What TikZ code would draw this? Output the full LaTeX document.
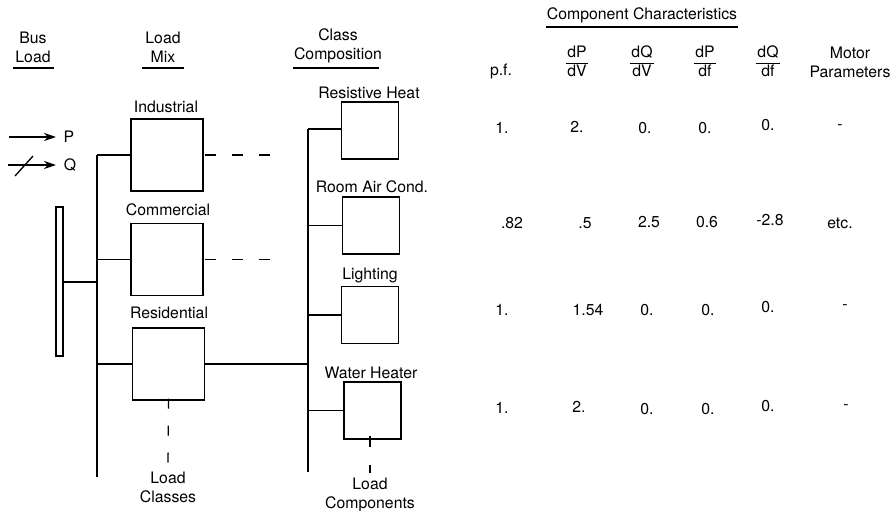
\documentclass[tikz,border=0pt]{standalone}
\usepackage{fontspec}
\setmainfont{TeX Gyre Heros}
\usetikzlibrary{arrows.meta}
\begin{document}
\begin{tikzpicture}[x=1pt,y=-1pt,
  every node/.style={font=\fontsize{15.8}{19}\selectfont, inner sep=0pt, align=center},
  lbox/.style={draw, line width=1.3pt, minimum width=72pt, minimum height=72pt},
  cbox/.style={draw, line width=1.3pt, minimum width=57pt, minimum height=57pt},
  wire/.style={line width=1.3pt},
  dashwire/.style={line width=1.3pt, dash pattern=on 11pt off 16pt},
  uline/.style={line width=1.3pt}
]
\useasboundingbox (0,0) rectangle (892,511);

% --- headers
\node (hbus) at (33,47) {Bus\\Load};
\coordinate (hbusL) at (13,68); \coordinate (hbusR) at (54,68);
\draw[uline] (hbusL) -- (hbusR);
\node (hmix) at (163,47) {Load\\Mix};
\coordinate (hmixL) at (142,68); \coordinate (hmixR) at (184,68);
\draw[uline] (hmixL) -- (hmixR);
\node (hclass) at (338,46) {Class\\Composition};
\coordinate (hclassL) at (293,68); \coordinate (hclassR) at (379,68);
\draw[uline] (hclassL) -- (hclassR);
\node (hcomp) at (642,15) {Component Characteristics};
\coordinate (hcompL) at (546,27); \coordinate (hcompR) at (738,27);
\draw[uline] (hcompL) -- (hcompR);

% --- column heads
\node (hpf) at (501,71) {p.f.};
\node (h1) at (577,63) {\setlength{\tabcolsep}{1pt}\renewcommand{\arraystretch}{1.0}\begin{tabular}{c}dP\\\hline dV\end{tabular}};
\node (h2) at (642,63) {\setlength{\tabcolsep}{1pt}\renewcommand{\arraystretch}{1.0}\begin{tabular}{c}dQ\\\hline dV\end{tabular}};
\node (h3) at (705,63) {\setlength{\tabcolsep}{1pt}\renewcommand{\arraystretch}{1.0}\begin{tabular}{c}dP\\\hline df\end{tabular}};
\node (h4) at (768,63) {\setlength{\tabcolsep}{1pt}\renewcommand{\arraystretch}{1.0}\begin{tabular}{c}dQ\\\hline df\end{tabular}};
\node (h5) at (850,62) {Motor\\Parameters};

% --- table rows
\node (r1a) at (502,128) {1.};
\node (r1b) at (577,127) {2.};
\node (r1c) at (645,128) {0.};
\node (r1d) at (705,128) {0.};
\node (r1e) at (768,125) {0.};
\node (r1f) at (840,127) {-};

\node (r2a) at (512,223) {.82};
\node (r2b) at (585,223) {.5};
\node (r2c) at (649,222) {2.5};
\node (r2d) at (707,222) {0.6};
\node (r2e) at (770,220) {-2.8};
\node (r2f) at (840,223) {etc.};

\node (r3a) at (502,310) {1.};
\node (r3b) at (588,310) {1.54};
\node (r3c) at (647,310) {0.};
\node (r3d) at (708,310) {0.};
\node (r3e) at (768,307) {0.};
\node (r3f) at (845,307) {-};

\node (r4a) at (502,408) {1.};
\node (r4b) at (579,407) {2.};
\node (r4c) at (647,409) {0.};
\node (r4d) at (708,409) {0.};
\node (r4e) at (768,406) {0.};
\node (r4f) at (846,407) {-};

% --- bus load
\node[draw, line width=1.3pt, minimum width=7pt, minimum height=149pt] (bus) at (59.5,281.5) {};
\coordinate (pA) at (9,137); \coordinate (pB) at (56,137);
\draw[wire, -{Stealth[length=12pt,width=8pt]}] (pA) -- (pB);
\node (plab) at (69,137) {P};
\coordinate (qA) at (8,165); \coordinate (qB) at (56,165);
\draw[wire, -{Stealth[length=12pt,width=8pt]}] (qA) -- (qB);
\coordinate (qs1) at (15,176); \coordinate (qs2) at (33,156);
\draw[wire] (qs1) -- (qs2);
\node (qlab) at (70,165) {Q};

% --- load mix
\node[lbox] (ind) at (167,155) {};
\node (indl) at (166,107) {Industrial};
\node[lbox] (com) at (167,259.5) {};
\node (coml) at (168,210) {Commercial};
\node[lbox] (res) at (168.5,364) {};
\node (resl) at (169,313) {Residential};

\coordinate (mixTop) at (97,155);
\coordinate (mixBot) at (97,477);
\coordinate (busJ) at (97,282);
\draw[wire] (mixTop) -- (mixBot);
\draw[wire] (mixTop) -- (ind.west);
\draw[wire] (com.west -| mixTop) -- (com.west);
\draw[wire] (res.west -| mixTop) -- (res.west);
\draw[wire] (bus.east |- busJ) -- (busJ);

\coordinate (indD) at (270,155);
\coordinate (comD) at (270,259.5);
\draw[dashwire] ([xshift=1pt]ind.east) -- (indD);
\draw[dashwire] ([xshift=1pt]com.east) -- (comD);

\node (lcl) at (168,487) {Load\\Classes};
\coordinate (resD) at (168,467);
\draw[line width=1.3pt, dash pattern=on 10pt off 17pt] ([yshift=2pt]res.south) -- (resD);

% --- class composition
\node[cbox] (rh) at (370,130.5) {};
\node (rhl) at (369,93) {Resistive Heat};
\node[cbox] (ac) at (371,225.5) {};
\node (acl) at (372,187) {Room Air Cond.};
\node[cbox] (lt) at (370,315) {};
\node (ltl) at (370,275) {Lighting};
\node[cbox] (wh) at (372.5,410.5) {};
\node (whl) at (371,373) {Water Heater};

\coordinate (clTop) at (308,129);
\coordinate (clBot) at (308,472);
\draw[wire] (clTop) -- (clBot);
\draw[wire] (clTop) -- (rh.west |- clTop);
\draw[wire] (ac.west -| clTop) -- (ac.west);
\draw[wire] (lt.west -| clTop) -- (lt.west);
\draw[wire] (wh.west -| clTop) -- (wh.west);
\draw[wire] (res.east) -- (res.east -| clTop);

\node (lco) at (370,495) {Load\\Components};
\coordinate (whD1) at (370,436);
\coordinate (whD2) at (370,473);
\draw[line width=1.3pt, dash pattern=on 11pt off 18pt] (whD1) -- (whD2);
\end{tikzpicture}
\end{document}
